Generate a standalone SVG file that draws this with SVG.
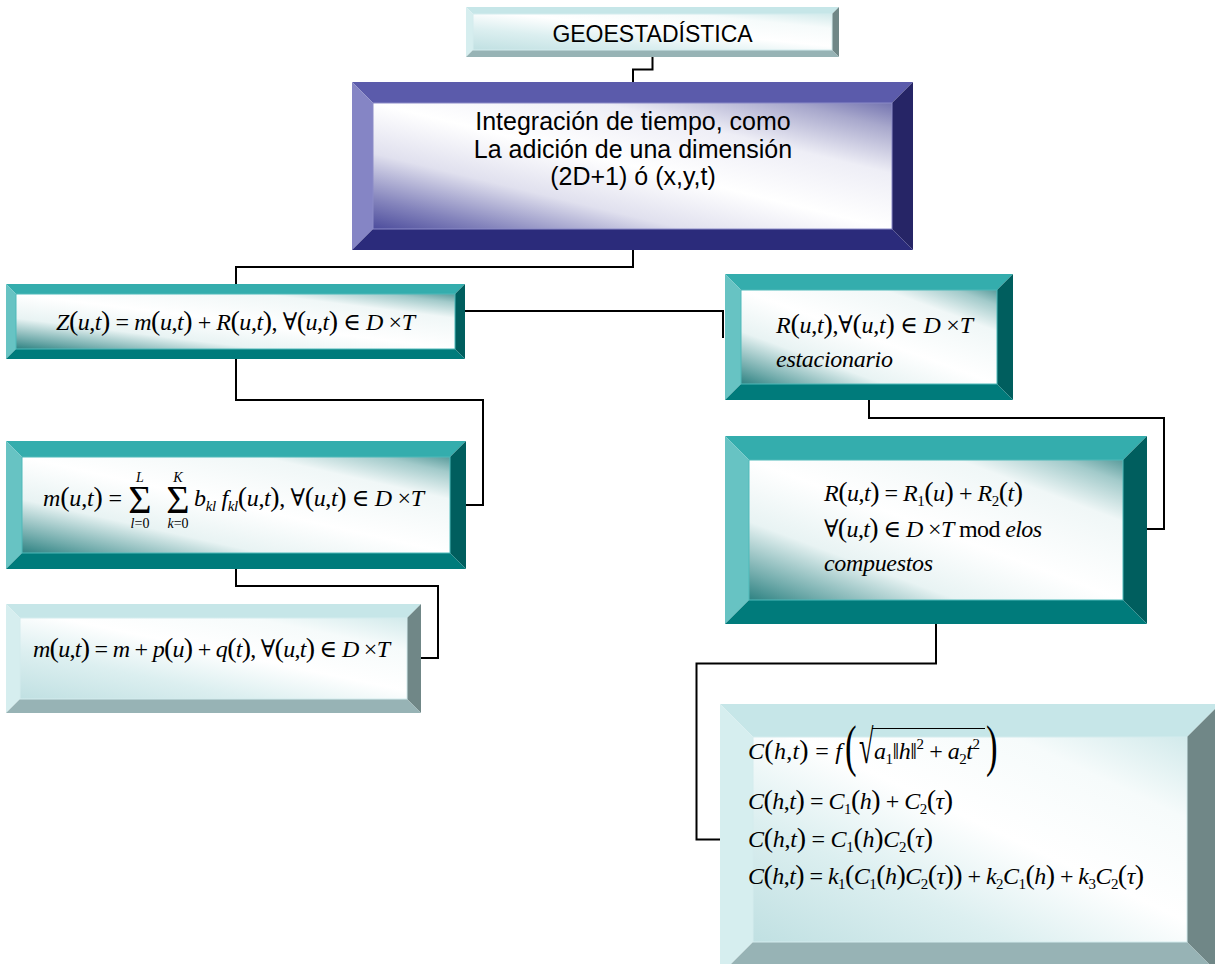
<svg xmlns="http://www.w3.org/2000/svg" width="1215" height="964" viewBox="0 0 1215 964">
<defs>
<linearGradient id="gLight" x1="0" y1="1" x2="1" y2="0">
<stop offset="0" stop-color="#c0e0e2"/><stop offset="0.3" stop-color="#dceff0"/><stop offset="0.55" stop-color="#ffffff"/><stop offset="0.8" stop-color="#f6fbfb"/><stop offset="1" stop-color="#d2eaeb"/>
</linearGradient>
<linearGradient id="gTeal" x1="0" y1="1" x2="1" y2="0">
<stop offset="0" stop-color="#2e8282"/><stop offset="0.1" stop-color="#72acac"/><stop offset="0.28" stop-color="#e8f3f3"/><stop offset="0.5" stop-color="#ffffff"/><stop offset="0.78" stop-color="#f0f7f7"/><stop offset="0.92" stop-color="#a2caca"/><stop offset="1" stop-color="#5a9c9c"/>
</linearGradient>
<linearGradient id="gPurple" x1="0" y1="1" x2="1" y2="0">
<stop offset="0" stop-color="#4c4c9c"/><stop offset="0.12" stop-color="#8484bc"/><stop offset="0.3" stop-color="#e0e0ee"/><stop offset="0.5" stop-color="#ffffff"/><stop offset="0.72" stop-color="#eeeef6"/><stop offset="0.9" stop-color="#a8a8cc"/><stop offset="1" stop-color="#7474b0"/>
</linearGradient>
</defs>
<style>
.tL{fill:#c6e6e8}.lL{fill:#d6eeef}.rL{fill:#708787}.bL{fill:#97b3b5}.fL{fill:url(#gLight);stroke:#d4ecee;stroke-width:1}
.tT{fill:#34adad}.lT{fill:#67c3c3}.rT{fill:#005e5e}.bT{fill:#007b7b}.fT{fill:url(#gTeal);stroke:#4fbaba;stroke-width:1}
.tP{fill:#5b5bab}.lP{fill:#8585c5}.rP{fill:#262566}.bP{fill:#2b2b7b}.fP{fill:url(#gPurple);stroke:#8c8cc8;stroke-width:1}
.a{font-family:"Liberation Sans",Arial,sans-serif;fill:#000;text-anchor:middle}
.f{font-family:"Liberation Serif","Times New Roman","DejaVu Serif",serif;font-size:24px;fill:#000}
.i{font-style:italic}
.s{font-size:15px}
.p{font-size:28px}
.lim{font-size:14px}
.conn{fill:none;stroke:#000;stroke-width:2}
</style>

<g id="connectors">
<path class="conn" d="M652.5 57 V69.5 H633 V82"/>
<path class="conn" d="M633 250 V267 H236 V284"/>
<path class="conn" d="M465 311 H723 V338"/>
<path class="conn" d="M236 359 V400 H483 V505 H466"/>
<path class="conn" d="M236 569 V586 H438 V658 H421"/>
<path class="conn" d="M869 400 V418 H1164 V529 H1147"/>
<path class="conn" d="M936 624 V663.5 H696.5 V839.5 H720"/>
</g>

<g id="n-geo">
<polygon class="tL" points="466,7 839,7 832,14 473,14"/>
<polygon class="lL" points="466,7 473,14 473,50 466,57"/>
<polygon class="rL" points="839,7 839,57 832,50 832,14"/>
<polygon class="bL" points="466,57 473,50 832,50 839,57"/>
<rect class="fL" x="473" y="14" width="359" height="36"/>
<text class="a" x="652.5" y="41.7" style="font-size:23px">GEOESTADÍSTICA</text>
</g>

<g id="n-integ">
<polygon class="tP" points="352,82 913,82 892,103 373,103"/>
<polygon class="lP" points="352,82 373,103 373,229 352,250"/>
<polygon class="rP" points="913,82 913,250 892,229 892,103"/>
<polygon class="bP" points="352,250 373,229 892,229 913,250"/>
<rect class="fP" x="373" y="103" width="519" height="126"/>
<text class="a" style="font-size:25px"><tspan x="633" y="130">Integración de tiempo, como</tspan><tspan x="633" y="158">La adición de una dimensión</tspan><tspan x="633" y="185">(2D+1) ó (x,y,t)</tspan></text>
</g>

<g id="n-z">
<polygon class="tT" points="6,284 465,284 455,294 16,294"/>
<polygon class="lT" points="6,284 16,294 16,349 6,359"/>
<polygon class="rT" points="465,284 465,359 455,349 455,294"/>
<polygon class="bT" points="6,359 16,349 455,349 465,359"/>
<rect class="fT" x="16" y="294" width="439" height="55"/>
<text class="f" x="56" y="330" textLength="359"><tspan class="i">Z</tspan><tspan class="p">(</tspan><tspan class="i">u</tspan>,<tspan class="i">t</tspan><tspan class="p">)</tspan> = <tspan class="i">m</tspan><tspan class="p">(</tspan><tspan class="i">u</tspan>,<tspan class="i">t</tspan><tspan class="p">)</tspan> + <tspan class="i">R</tspan><tspan class="p">(</tspan><tspan class="i">u</tspan>,<tspan class="i">t</tspan><tspan class="p">)</tspan>, ∀<tspan class="p">(</tspan><tspan class="i">u</tspan>,<tspan class="i">t</tspan><tspan class="p">)</tspan> ∈ <tspan class="i">D</tspan> ×<tspan class="i">T</tspan></text>
</g>

<g id="n-m">
<polygon class="tT" points="6,441 466,441 450,457 22,457"/>
<polygon class="lT" points="6,441 22,457 22,553 6,569"/>
<polygon class="rT" points="466,441 466,569 450,553 450,457"/>
<polygon class="bT" points="6,569 22,553 450,553 466,569"/>
<rect class="fT" x="22" y="457" width="428" height="96"/>
<text class="f" x="43" y="506" textLength="79"><tspan class="i">m</tspan><tspan class="p">(</tspan><tspan class="i">u</tspan>,<tspan class="i">t</tspan><tspan class="p">)</tspan> =</text>
<text class="f" style="text-anchor:middle"><tspan x="140" y="513" style="font-size:40px">Σ</tspan><tspan class="lim i" x="140" y="482">L</tspan><tspan class="lim" x="140" y="528"><tspan class="i">l</tspan>=0</tspan></text>
<text class="f" style="text-anchor:middle"><tspan x="178" y="513" style="font-size:40px">Σ</tspan><tspan class="lim i" x="178" y="482">K</tspan><tspan class="lim" x="178" y="528"><tspan class="i">k</tspan>=0</tspan></text>
<text class="f" x="194" y="506" textLength="230"><tspan class="i">b</tspan><tspan class="s i" dy="5">kl</tspan><tspan class="i" dy="-5"> f</tspan><tspan class="s i" dy="5">kl</tspan><tspan class="p" dy="-5">(</tspan><tspan class="i">u</tspan>,<tspan class="i">t</tspan><tspan class="p">)</tspan>, ∀<tspan class="p">(</tspan><tspan class="i">u</tspan>,<tspan class="i">t</tspan><tspan class="p">)</tspan> ∈ <tspan class="i">D</tspan> ×<tspan class="i">T</tspan></text>
</g>

<g id="n-mpq">
<polygon class="tL" points="6,604 421,604 407,618 20,618"/>
<polygon class="lL" points="6,604 20,618 20,699 6,713"/>
<polygon class="rL" points="421,604 421,713 407,699 407,618"/>
<polygon class="bL" points="6,713 20,699 407,699 421,713"/>
<rect class="fL" x="20" y="618" width="387" height="81"/>
<text class="f" x="33" y="657" textLength="357"><tspan class="i">m</tspan><tspan class="p">(</tspan><tspan class="i">u</tspan>,<tspan class="i">t</tspan><tspan class="p">)</tspan> = <tspan class="i">m</tspan> + <tspan class="i">p</tspan><tspan class="p">(</tspan><tspan class="i">u</tspan><tspan class="p">)</tspan> + <tspan class="i">q</tspan><tspan class="p">(</tspan><tspan class="i">t</tspan><tspan class="p">)</tspan>, ∀<tspan class="p">(</tspan><tspan class="i">u</tspan>,<tspan class="i">t</tspan><tspan class="p">)</tspan> ∈ <tspan class="i">D</tspan> ×<tspan class="i">T</tspan></text>
</g>

<g id="n-r">
<polygon class="tT" points="725,274 1013,274 997,290 741,290"/>
<polygon class="lT" points="725,274 741,290 741,384 725,400"/>
<polygon class="rT" points="1013,274 1013,400 997,384 997,290"/>
<polygon class="bT" points="725,400 741,384 997,384 1013,400"/>
<rect class="fT" x="741" y="290" width="256" height="94"/>
<text class="f" x="776" y="333" textLength="197"><tspan class="i">R</tspan><tspan class="p">(</tspan><tspan class="i">u</tspan>,<tspan class="i">t</tspan><tspan class="p">)</tspan>,∀<tspan class="p">(</tspan><tspan class="i">u</tspan>,<tspan class="i">t</tspan><tspan class="p">)</tspan> ∈ <tspan class="i">D</tspan> ×<tspan class="i">T</tspan></text>
<text class="f i" x="776" y="367" textLength="117">estacionario</text>
</g>

<g id="n-rdecomp">
<polygon class="tT" points="725,436 1147,436 1123,460 749,460"/>
<polygon class="lT" points="725,436 749,460 749,600 725,624"/>
<polygon class="rT" points="1147,436 1147,624 1123,600 1123,460"/>
<polygon class="bT" points="725,624 749,600 1123,600 1147,624"/>
<rect class="fT" x="749" y="460" width="374" height="140"/>
<text class="f" x="824" y="501" textLength="199"><tspan class="i">R</tspan><tspan class="p">(</tspan><tspan class="i">u</tspan>,<tspan class="i">t</tspan><tspan class="p">)</tspan> = <tspan class="i">R</tspan><tspan class="s" dy="5">1</tspan><tspan class="p" dy="-5">(</tspan><tspan class="i">u</tspan><tspan class="p">)</tspan> + <tspan class="i">R</tspan><tspan class="s" dy="5">2</tspan><tspan class="p" dy="-5">(</tspan><tspan class="i">t</tspan><tspan class="p">)</tspan></text>
<text class="f" x="824" y="537" textLength="218">∀<tspan class="p">(</tspan><tspan class="i">u</tspan>,<tspan class="i">t</tspan><tspan class="p">)</tspan> ∈ <tspan class="i">D</tspan> ×<tspan class="i">T</tspan> mod <tspan class="i">elos</tspan></text>
<text class="f i" x="824" y="571" textLength="109">compuestos</text>
</g>

<g id="n-c">
<polygon class="tL" points="720,704 1220,704 1187,737 753,737"/>
<polygon class="lL" points="720,704 753,737 753,942 720,975"/>
<polygon class="rL" points="1220,704 1220,975 1187,942 1187,737"/>
<polygon class="bL" points="720,975 753,942 1187,942 1220,975"/>
<rect class="fL" x="753" y="737" width="434" height="205"/>
<text class="f" x="748" y="759" textLength="94"><tspan class="i">C</tspan><tspan class="p">(</tspan><tspan class="i">h</tspan>,<tspan class="i">t</tspan><tspan class="p">)</tspan> = <tspan class="i">f</tspan></text>
<text class="f" transform="translate(845,765) scale(0.6,1)" style="font-size:58px">(</text>
<text class="f" transform="translate(986,765) scale(0.6,1)" style="font-size:58px">)</text>
<text class="f" transform="translate(859,763) scale(0.55,1)" style="font-size:48px">√</text>
<line x1="872" y1="728.5" x2="985" y2="728.5" stroke="#000" stroke-width="1.2"/>
<text class="f" x="874" y="759" textLength="106"><tspan class="i">a</tspan><tspan class="s" dy="5">1</tspan><tspan dy="-5">‖</tspan><tspan class="i">h</tspan>‖<tspan class="s" dy="-10">2</tspan><tspan dy="10"> + </tspan><tspan class="i">a</tspan><tspan class="s" dy="5">2</tspan><tspan class="i" dy="-5">t</tspan><tspan class="s" dy="-10">2</tspan></text>
<text class="f" x="748" y="809" textLength="205"><tspan class="i">C</tspan><tspan class="p">(</tspan><tspan class="i">h</tspan>,<tspan class="i">t</tspan><tspan class="p">)</tspan> = <tspan class="i">C</tspan><tspan class="s" dy="5">1</tspan><tspan class="p" dy="-5">(</tspan><tspan class="i">h</tspan><tspan class="p">)</tspan> + <tspan class="i">C</tspan><tspan class="s" dy="5">2</tspan><tspan class="p" dy="-5">(</tspan><tspan class="i">τ</tspan><tspan class="p">)</tspan></text>
<text class="f" x="748" y="847" textLength="185"><tspan class="i">C</tspan><tspan class="p">(</tspan><tspan class="i">h</tspan>,<tspan class="i">t</tspan><tspan class="p">)</tspan> = <tspan class="i">C</tspan><tspan class="s" dy="5">1</tspan><tspan class="p" dy="-5">(</tspan><tspan class="i">h</tspan><tspan class="p">)</tspan><tspan class="i">C</tspan><tspan class="s" dy="5">2</tspan><tspan class="p" dy="-5">(</tspan><tspan class="i">τ</tspan><tspan class="p">)</tspan></text>
<text class="f" x="748" y="884" textLength="396"><tspan class="i">C</tspan><tspan class="p">(</tspan><tspan class="i">h</tspan>,<tspan class="i">t</tspan><tspan class="p">)</tspan> = <tspan class="i">k</tspan><tspan class="s" dy="5">1</tspan><tspan class="p" dy="-5">(</tspan><tspan class="i">C</tspan><tspan class="s" dy="5">1</tspan><tspan class="p" dy="-5">(</tspan><tspan class="i">h</tspan><tspan class="p">)</tspan><tspan class="i">C</tspan><tspan class="s" dy="5">2</tspan><tspan class="p" dy="-5">(</tspan><tspan class="i">τ</tspan><tspan class="p">))</tspan> + <tspan class="i">k</tspan><tspan class="s" dy="5">2</tspan><tspan class="i" dy="-5">C</tspan><tspan class="s" dy="5">1</tspan><tspan class="p" dy="-5">(</tspan><tspan class="i">h</tspan><tspan class="p">)</tspan> + <tspan class="i">k</tspan><tspan class="s" dy="5">3</tspan><tspan class="i" dy="-5">C</tspan><tspan class="s" dy="5">2</tspan><tspan class="p" dy="-5">(</tspan><tspan class="i">τ</tspan><tspan class="p">)</tspan></text>
</g>
</svg>
